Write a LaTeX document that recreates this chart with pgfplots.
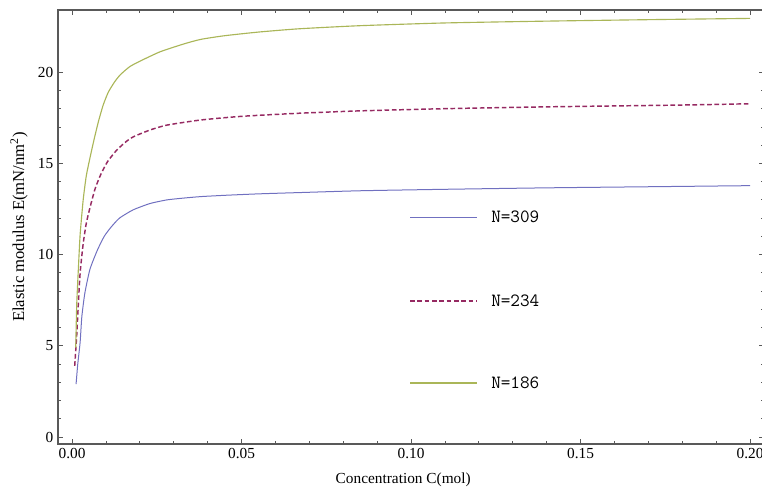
\documentclass[border=0pt]{standalone}
\usepackage{fontspec}
\setmainfont{Liberation Serif}
\usepackage{pgfplots}
\pgfplotsset{compat=1.18}

\definecolor{cNa}{RGB}{112,112,192}
\definecolor{cNb}{RGB}{150,42,98}
\definecolor{cNc}{RGB}{170,182,88}

\tikzset{
  s309/.style={draw=cNa, line width=0.75pt},
  s234/.style={draw=cNb, line width=1.1pt, dash pattern=on 3.5pt off 2pt},
  s186/.style={draw=cNc, line width=0.85pt},
  keytext/.style={anchor=west, inner sep=0pt, text=black, font=\ttfamily\fontsize{14}{14}\selectfont},
}

\begin{document}
\begin{tikzpicture}
\begin{axis}[
  at={(0pt,0pt)}, anchor=south west,
  scale only axis,
  width=529.5pt, height=325.5pt,
  xmin=-0.00413, xmax=0.20413,
  ymin=-0.384, ymax=23.41,
  axis line style={draw=black!65, line width=0.8pt},
  tick style={draw=black!65, line width=0.6pt},
  tick align=inside,
  major tick length=4pt, minor tick length=2pt,
  xtick={0,0.05,0.1,0.15,0.2},
  ytick={0,5,10,15,20},
  minor x tick num=4, minor y tick num=4,
  scaled x ticks=false,
  xticklabel style={/pgf/number format/.cd, fixed, fixed zerofill, precision=2},
  /pgf/number format/assume math mode=true,
  ticklabel style={font=\fontsize{11.5}{13}\selectfont},
  xlabel={Concentration C(mol)},
  ylabel={Elastic modulus E(mN/nm\textsuperscript{2})},
  xlabel style={at={(axis description cs:0.489,-0.082)}, anchor=center, font=\fontsize{11.5}{13}\selectfont},
  ylabel style={at={(axis description cs:-0.0552,0.5)}, anchor=center, font=\fontsize{12.5}{14}\selectfont},
]

% N = 309
\addplot[s309, smooth, tension=0.35] table {
0.0012 2.9
0.0017 4.0
0.0024 5.2
0.0029 6.6
0.0038 7.9
0.0053 9.2
0.0075 10.25
0.0095 11.0
0.0115 11.5
0.014 12.0
0.018 12.45
0.023 12.8
0.028 13.0
0.033 13.1
0.038 13.18
0.045 13.25
0.055 13.33
0.067 13.4
0.085 13.5
0.11 13.58
0.14 13.66
0.17 13.72
0.20 13.78
};

% N = 234
\addplot[s234, smooth, tension=0.35] table {
0.0008 3.9
0.0014 5.6
0.0019 7.4
0.0024 9.0
0.0033 10.6
0.0042 11.7
0.0052 12.5
0.0068 13.6
0.0085 14.4
0.0105 15.1
0.0132 15.73
0.016 16.2
0.0181 16.46
0.023 16.83
0.028 17.1
0.038 17.38
0.05 17.58
0.067 17.75
0.085 17.88
0.11 18.0
0.14 18.1
0.18 18.2
0.20 18.27
};

% N = 186
\addplot[s186, smooth, tension=0.35] table {
0.0011 4.9
0.0014 7.3
0.0019 9.3
0.0024 11.1
0.0033 13.0
0.0042 14.3
0.0053 15.3
0.0065 16.3
0.0078 17.3
0.0092 18.2
0.0107 18.9
0.0125 19.45
0.0142 19.85
0.017 20.3
0.020 20.6
0.026 21.12
0.033 21.55
0.038 21.8
0.045 22.0
0.055 22.2
0.067 22.38
0.085 22.55
0.11 22.7
0.14 22.8
0.17 22.88
0.20 22.95
};

% key: one short line and a label per series, stacked in the middle of the plot
\draw[s309] (axis description cs:0.4986,0.523) -- (axis description cs:0.5935,0.523);
\node[keytext] at (axis description cs:0.6133,0.523) {N=309};
\draw[s234] (axis description cs:0.4986,0.3295) -- (axis description cs:0.5935,0.3295);
\node[keytext] at (axis description cs:0.6133,0.3295) {N=234};
\draw[s186] (axis description cs:0.4986,0.1406) -- (axis description cs:0.5935,0.1406);
\node[keytext] at (axis description cs:0.6133,0.1406) {N=186};

\end{axis}
\pgfresetboundingbox
\path[use as bounding box] (-43.5pt,-34.5pt) rectangle (528pt,333pt);
\end{tikzpicture}
\end{document}
